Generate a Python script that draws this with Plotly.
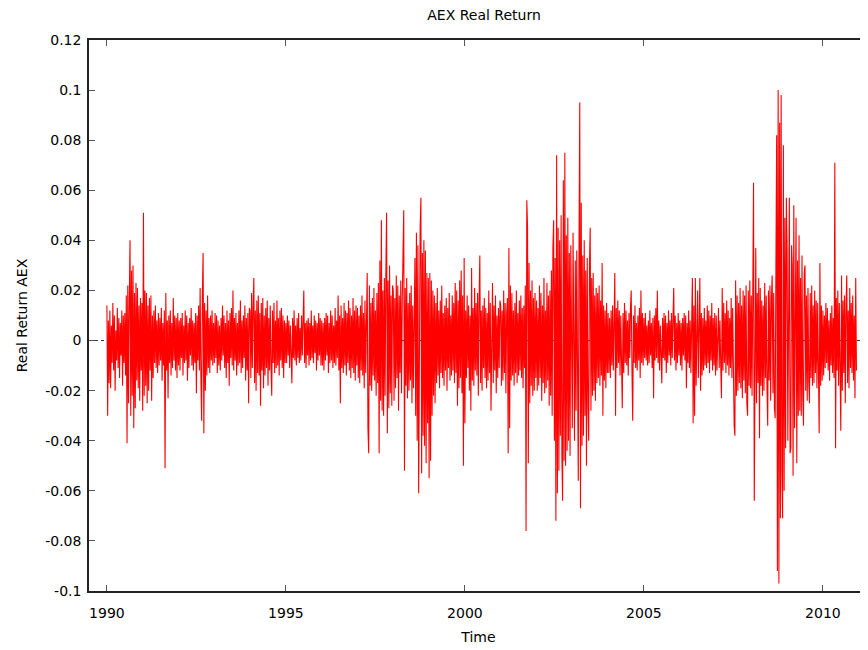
import plotly.graph_objects as go

# Daily-ish real returns of the AEX (units: 1/1000), one list per year
r1990 = [14, -30, 8, -17, 12, -19, 6, -9, 15, -12, 10, -20, 4, -8, 13, -11, 9, -15, 7, -6, 12, -18, 10, -9,
         11, -14, 18, -41, 22, -25, 16, 40, -30, 28, -22, 30, -35, 19, -27, 23, -16, 21, -19, 14, -24, 17, -12, 15]
r1991 = [-28, 51, -22, 20, -18, 19, -25, 14, -20, 17, -12, 18, -24, 10, -15, 12, -9, 14, -11, 8, -13, 11, -10, 9,
         -8, 13, -16, 7, -10, 12, -51, 19, -12, 8, -23, 10, -9, 12, -14, 7, -11, 17, -8, 10, -12, 9, -15, 11]
r1992 = [-10, 8, -12, 9, -7, 11, -14, 6, -9, 12, -8, 10, -16, 7, -11, 9, -6, 13, -10, 8, -12, 7, -9, 11,
         -21, 10, -8, 14, -12, 21, -15, -32, 18, 35, -37, 15, -20, 12, -14, 18, -11, 9, -13, 10, -8, 12, -10, 7]
r1993 = [-9, 11, -7, 10, -13, 8, -10, 6, -12, 9, -8, 14, -6, 10, -11, 7, -15, 12, -9, 8, -18, 11, -7, 13,
         -10, 20, -12, 9, -8, 11, -14, 7, -10, 12, -9, 16, -13, 8, -11, 10, -7, 14, -16, 9, -12, 11, -25, 13]
r1994 = [12, -15, 19, -11, 14, 25, -17, 12, -20, 16, -13, 18, -14, 11, -26, 15, -12, 17, -19, 10, -14, 13, -11, 16,
         -18, 9, -12, 14, -10, -22, 12, -9, 15, -13, 8, -11, 16, -10, 9, -14, 12, -8, 13, -11, 10, -15, 8, -9]
r1995 = [7, -9, 10, -6, 8, -11, 6, -8, -17, 9, -7, 12, -8, 6, -10, 9, -7, 11, -9, 5, -8, 10, -6, 8,
         20, -9, 7, -11, 8, -6, 9, -10, 7, -8, 12, -7, 6, -9, 10, -5, 8, -12, 7, -8, 11, -6, 9, -10]
r1996 = [8, -10, 7, -12, 9, -8, 11, -6, 10, -13, 7, -9, 12, -8, 10, -11, 6, -9, 13, -10, 8, -7, 18, -12,
         10, -25, 14, -11, 9, -13, 15, -10, 12, -14, 11, -9, 16, -12, 13, -15, 10, -11, 17, -13, 12, -16, 14, -10]
r1997 = [13, -15, 10, -17, 14, -12, 18, -14, 11, -19, 16, -13, 20, 27, -35, -45, 22, -18, 15, -20, 17, -14, 21, -16,
         12, -22, 19, -17, 23, -45, 32, -24, 48, -28, 20, -30, 25, -22, 26, 51, -37, 24, -27, 30, -21, 18, -26, 22]
r1998 = [20, -24, 17, -19, 26, -15, 22, -28, 18, -13, 24, -21, 16, 30, 52, -52, 21, -18, 25, -23, 15, -20, 19, -16,
         22, -25, 14, -19, 28, 33, -30, 43, -40, 38, -61, 30, 45, 57, -53, 35, -38, 40, -42, 36, -49, 27, -33, 25]
r1999 = [-55, 27, -48, 24, -30, 20, -22, 18, -25, 15, -17, 21, -14, 12, -19, 16, -13, 22, -15, 11, -18, 14, -12, 17,
         -20, 13, -11, 19, -16, 10, -14, 18, -12, 15, -17, 23, -13, 20, -26, 16, -19, 24, -15, 28, -21, 18, -50, 33]
r2000 = [-33, 12, -15, 18, -11, 14, -20, 10, -28, 29, -16, 13, -18, 21, -12, 15, -14, 19, -22, 16, 34, -17, 12, -20,
         14, -11, 17, -15, 13, -19, 11, -16, 20, -13, 15, -28, 12, 23, -17, 14, -12, 18, -21, 10, -15, 13, -11, 16]
r2001 = [14, -18, 12, -16, 20, -13, 15, -21, 11, 17, -45, 37, -35, 22, -16, 19, -14, 12, -18, 15, -13, 20, -17, 11,
         -14, 16, -12, 18, -15, 13, -19, 14, -11, 22, -76, 56, 45, -49, 31, -25, 20, -18, 24, -22, 17, -20, 19, -15]
r2002 = [16, -20, 13, -18, 22, -15, 19, -24, 14, -17, 25, -21, 12, -19, 23, -16, 18, -26, 20, -22, 28, -30, 37, 48,
         -40, 33, -72, 74, -61, 45, -52, 40, -38, 50, -45, -64, 64, -48, 75, -50, 42, -44, 49, -40, 35, -46, 38, -34]
r2003 = [-35, 43, -30, -40, 32, -28, 36, -33, -56, 38, 95, -67, 55, -42, 34, -38, 40, -30, 28, -50, 33, -26, -40, 30,
         45, -28, 25, -22, 27, -20, 18, -24, 21, -17, 19, -15, 22, -18, 16, -14, 31, -30, 14, -16, 12, -19, 15, -13]
r2004 = [11, -13, 9, -15, 12, -10, 14, -12, 8, 27, -30, 13, -11, 16, -9, 12, -14, 10, -8, -27, 11, -13, 15, -9,
         12, -10, 8, -14, 11, -7, 13, 20, -12, -32, 10, -9, 14, -11, 7, -12, 10, -8, 13, -15, 20, -9, 11, -10]
r2005 = [9, -7, 11, -8, 6, -10, 8, -9, 12, -6, 7, -11, 9, -23, 10, -8, 13, -7, 20, -9, 8, -12, 6, -10,
         -17, 9, -7, 11, -8, 10, -13, 7, -9, 12, -6, 8, -10, 11, -7, 9, 21, -8, 10, -12, 7, -9, 11, -6]
r2006 = [8, -10, 7, -12, 9, -6, 11, -8, 10, -19, 7, -9, 12, -11, 8, -13, 10, 25, -33, 14, -30, 25, -18, 16,
         20, -15, 12, 25, -20, 11, -14, 9, -12, 13, -10, 8, -11, 14, -9, 12, -13, 10, -8, 15, -12, 9, -10, 11]
r2007 = [-14, 10, -12, 9, 13, -11, 8, -10, -23, 21, -12, 15, -9, 11, -13, 16, -10, 12, -14, 9, -11, 17, -15, 13,
         -16, -34, -38, 24, -22, 18, -20, 15, -17, 21, -19, 14, -23, 20, -16, 18, -21, 22, -25, -30, 20, -18, 24, -19]
r2008 = [18, -22, 20, 63, -64, -30, 37, -25, 19, -17, 25, -39, 21, -18, 16, -22, 14, -20, 23, -15, 18, -19, -34, 20,
         -16, 22, -24, 17, 26, -21, 19, -27, -31, 30, 82, -92, 100, -97, 87, -71, 98, -52, -71, 78, -60, 49, -43, 57]
r2009 = [35, -40, 30, 57, -45, -43, 38, 30, -54, 54, -35, 28, 49, -49, 32, -30, 42, -28, 25, -30, 34, -22, -34, 27,
         30, -20, 18, -24, 21, -16, -25, 19, -15, 22, -18, 14, -17, 20, -13, 16, -19, 15, -12, -37, 31, -18, 14, -16]
r2010 = [12, -14, 10, -11, 15, -9, 13, -12, 8, -16, 11, -10, 14, -13, 9, -15, 71, -43, 17, -12, 20, -18, 15, -14,
         -36, 26, -20, 16, -13, 18, -25, 14, 26, -17, 12, -19, 21, -11, 15, -13, 18, -16, 10, -23, 25, -12]

years = list(range(1990, 2011))
yearly = [r1990, r1991, r1992, r1993, r1994, r1995, r1996, r1997, r1998, r1999, r2000,
          r2001, r2002, r2003, r2004, r2005, r2006, r2007, r2008, r2009, r2010]
SAMPLES_PER_YEAR = 48

x_ticks = [1990, 1995, 2000, 2005, 2010]
y_ticks = [-0.1, -0.08, -0.06, -0.04, -0.02, 0, 0.02, 0.04, 0.06, 0.08, 0.1, 0.12]
y_ticktext = ["-0.1", "-0.08", "-0.06", "-0.04", "-0.02", "0", "0.02", "0.04", "0.06", "0.08", "0.1", "0.12"]

time = []
ret = []
for yr, vals in zip(years, yearly):
    for k, v in enumerate(vals):
        time.append(yr + k / SAMPLES_PER_YEAR)
        ret.append(v / 1000.0)

FONT = "DejaVu Sans"
W, H = 860, 642   # the page body adds an 8px offset on the left and top
ML, MT, MR, MB = 81, 32, 0, 59

fig = go.Figure()
fig.add_trace(go.Scatter(x=time, y=ret, mode="lines",
                         line=dict(color="#ff0000", width=1.1), showlegend=False, hoverinfo="skip"))

fig.add_shape(type="line", xref="paper", yref="y", x0=0, x1=1, y0=0, y1=0,
              line=dict(color="#333333", width=1, dash="dot"), layer="below")

fig.update_layout(
    width=W, height=H,
    margin=dict(l=ML, r=MR, t=MT, b=MB, autoexpand=False),
    paper_bgcolor="white", plot_bgcolor="white",
    font=dict(family=FONT, size=14, color="black"),
    title=dict(text="AEX Real Return", x=(484 - 89) / (868 - 89), xref="paper",
               xanchor="center", y=1 - 7 / H, yanchor="middle",
               font=dict(family=FONT, size=14, color="black")),
    xaxis=dict(range=[1989.5, 1989.5 + 779 / 35.8], tickvals=x_ticks,
               ticks="inside", ticklen=6, tickcolor="#555555", tickwidth=1,
               ticklabelstandoff=8,
               showline=True, linecolor="#222222", linewidth=1.5, mirror="ticks",
               showgrid=False, zeroline=False,
               title=dict(text="Time", standoff=13, font=dict(family=FONT, size=14))),
    yaxis=dict(range=[-0.1, 0.12], tickvals=y_ticks, ticktext=y_ticktext,
               ticks="inside", ticklen=6, tickcolor="#555555", tickwidth=1,
               ticklabelstandoff=3,
               showline=True, linecolor="#222222", linewidth=1.5, mirror=False,
               showgrid=False, zeroline=False,
               title=dict(text="Real Return AEX", standoff=14, font=dict(family=FONT, size=14))),
)

fig.write_html("out.html")
